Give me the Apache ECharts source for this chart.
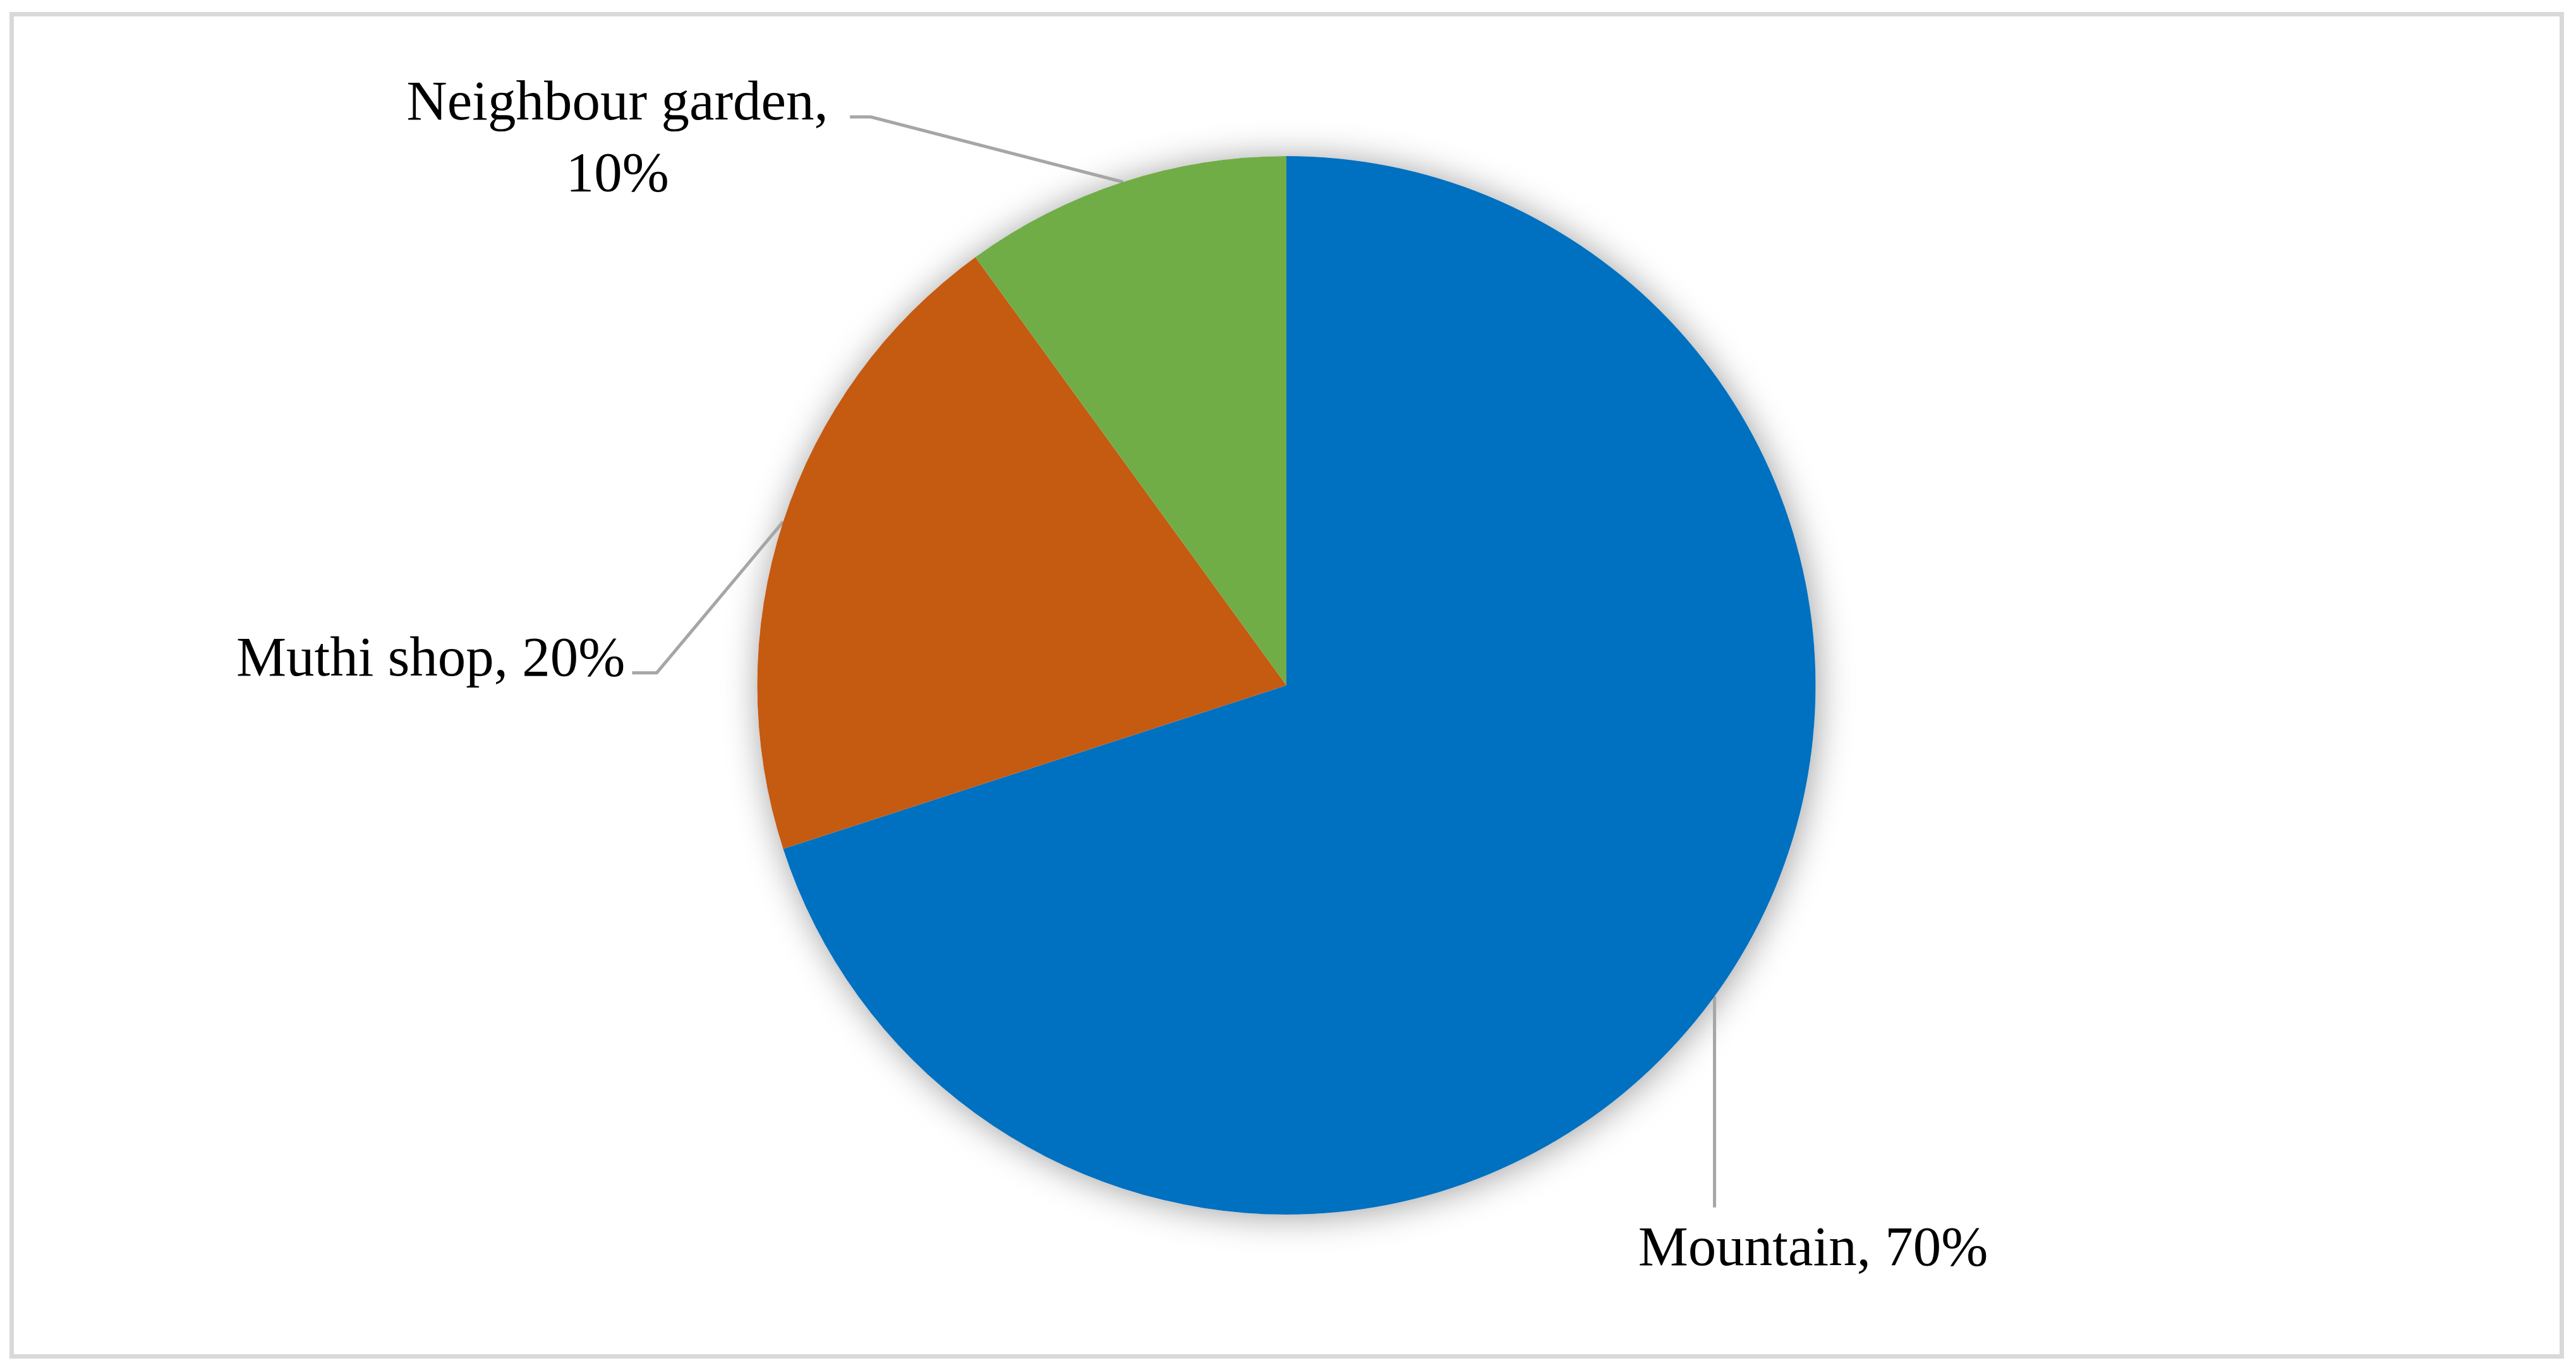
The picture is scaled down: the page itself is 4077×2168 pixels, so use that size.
<!DOCTYPE html>
<html>
<head>
<meta charset="utf-8">
<style>
  html, body { margin: 0; padding: 0; background: #ffffff; }
  #chart { width: 4077px; height: 2168px; }
</style>
<script src="https://cdn.jsdelivr.net/npm/echarts@6/dist/echarts.min.js"></script>
</head>
<body>
<div id="chart"></div>
<script>
// ---- data ----
const categories = ['Mountain', 'Muthi shop', 'Neighbour garden'];
const values = [70, 20, 10];
const colors = ['#0070C0', '#C55A11', '#70AD47'];
const wrapLabel = [false, false, true];

// ---- layout ----
const CX = 2036, CY = 1084.5, R = 837.5;
const FONT = '"Palatino Linotype", "Book Antiqua", Palatino, "Liberation Serif", serif';
// per-label layout relative to the slice anchor on the rim
const labelLayouts = [
  { bend: [0, 334], end: [0, 334], text: [156, 402], align: 'center' },
  { bend: [-200, 239], end: [-239, 239], text: [-250, 220], align: 'right' },
  { bend: [-399, -103], end: [-432, -103], text: [-800, -66], align: 'center' }
];

const total = values.reduce((a, b) => a + b, 0);
function anchor(i) {
  let before = 0;
  for (let k = 0; k < i; k++) before += values[k];
  const midFrac = (before + values[i] / 2) / total;
  const ang = (90 - midFrac * 360) * Math.PI / 180;
  return [CX + R * Math.cos(ang), CY - R * Math.sin(ang)];
}

const chart = echarts.init(document.getElementById('chart'), null, { renderer: 'canvas' });

const data = categories.map((name, i) => {
  const item = { name: name, value: values[i], itemStyle: { color: colors[i] } };
  if (wrapLabel[i]) item.label = { formatter: '{b},\n{d}%' };
  return item;
});

chart.setOption({
  animation: false,
  backgroundColor: '#ffffff',
  graphic: [{
    type: 'rect',
    shape: { x: 18.5, y: 22.5, width: 4036, height: 2124 },
    style: { fill: 'none', stroke: '#d9d9d9', lineWidth: 7 },
    silent: true
  }],
  series: [
    {
      type: 'pie',
      silent: true,
      center: [CX, CY],
      radius: R,
      data: [{ value: total, itemStyle: { color: '#ffffff' } }],
      label: { show: false },
      labelLine: { show: false },
      itemStyle: { shadowBlur: 55, shadowColor: 'rgba(0,0,0,0.38)', shadowOffsetX: 3, shadowOffsetY: 3 },
      z: 1
    },
    {
      type: 'pie',
      center: [CX, CY],
      radius: R,
      startAngle: 90,
      clockwise: true,
      avoidLabelOverlap: false,
      data: data,
      itemStyle: { borderWidth: 0 },
      label: {
        show: true,
        position: 'outside',
        formatter: '{b}, {d}%',
        fontFamily: FONT,
        fontSize: 89,
        lineHeight: 113,
        color: '#000000'
      },
      labelLine: {
        show: true,
        lineStyle: { color: '#a6a6a6', width: 5 }
      },
      labelLayout: function (params) {
        const i = params.dataIndex;
        const L = labelLayouts[i];
        const a = anchor(i);
        return {
          x: a[0] + L.text[0],
          y: a[1] + L.text[1],
          align: L.align,
          verticalAlign: 'middle',
          labelLinePoints: [
            [a[0], a[1]],
            [a[0] + L.bend[0], a[1] + L.bend[1]],
            [a[0] + L.end[0], a[1] + L.end[1]]
          ]
        };
      },
      z: 2
    }
  ]
});
</script>
</body>
</html>
